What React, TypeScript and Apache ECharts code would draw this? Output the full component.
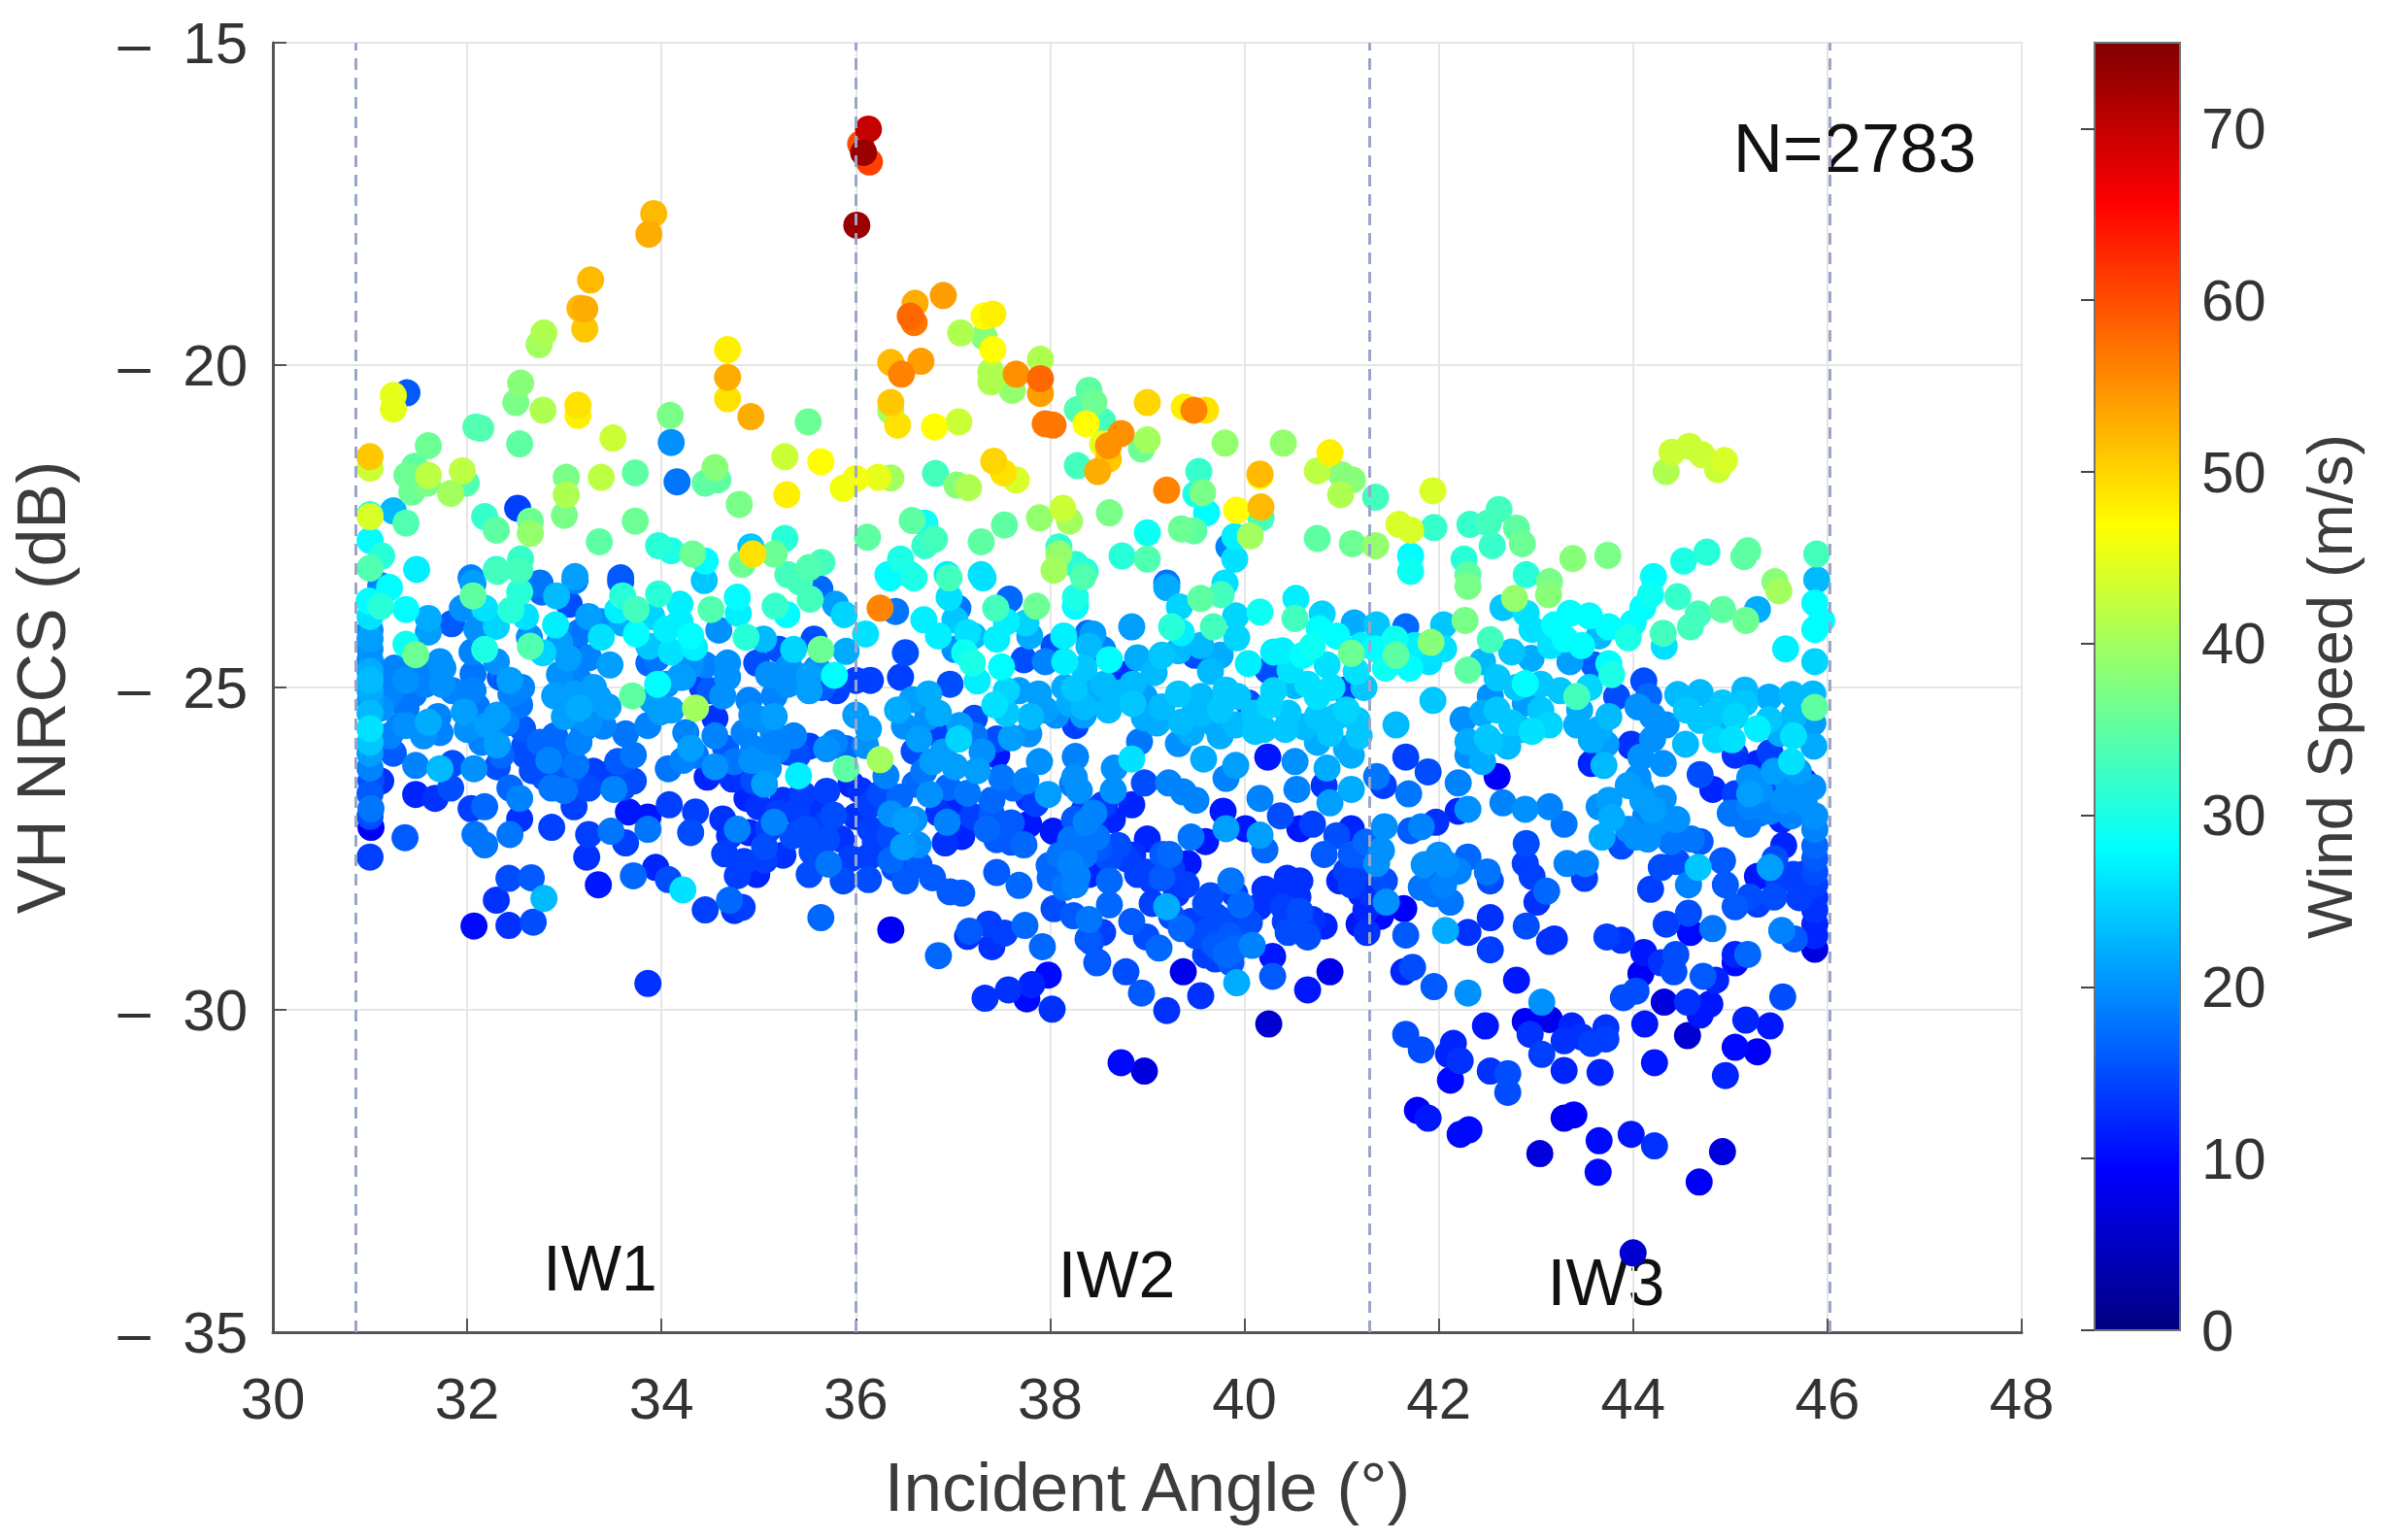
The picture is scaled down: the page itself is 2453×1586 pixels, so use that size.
import React, { useEffect, useRef } from "react";
import * as echarts from "echarts";

// Each point: [incident angle (deg), |VH NRCS| (dB), wind speed (m/s)]
type P = [number, number, number];

const xTicks = { min: 30, max: 48, step: 2 };
const yTicks = { min: -35, max: -15, step: 5 };
const windRange = [0, 75];
const windTicks = [0, 10, 20, 30, 40, 50, 60, 70];
const subSwathEdges = [30.85, 36.0, 41.29, 46.02];
const jetColors = ["#000080", "#0000ff", "#0080ff", "#00ffff", "#80ff80", "#ffff00", "#ff8000", "#ff0000", "#800000"];

const upperLeft: P[] = [
[36.13,16.34,70],[36.05,16.57,60],[36.14,16.85,61],[36.08,16.7,73],[36.01,17.83,73],[33.92,17.65,52],[33.87,17.97,53],[33.27,18.68,52],[33.16,19.12,52],[33.21,19.13,53],[33.21,19.44,51],[32.79,19.5,41],[32.74,19.68,40],[34.68,19.76,48],[34.68,20.19,53],[34.68,20.52,49],[34.92,20.8,53],[32.55,20.28,38],[32.5,20.58,37],[32.78,20.7,41],[33.14,20.62,49],[33.14,20.78,48],[31.38,20.43,16],[31.24,20.47,45],[31.24,20.68,45],[33.5,21.13,43],[34.09,20.78,37],[34.1,21.2,20],[35.51,20.88,36],[32.14,20.98,34],[32.09,20.96,34],[32.54,21.22,35],[31.6,21.25,36],[31.0,21.42,51],[31.0,21.6,43],[31.38,21.71,36],[31.46,21.57,35],[31.6,21.71,42],[31.59,21.83,37],[31.95,21.64,42],[31.99,21.83,34],[31.43,21.97,36],[31.83,21.99,40],[33.02,21.74,37],[33.02,22.01,41],[33.0,22.33,37],[33.38,21.74,42],[33.73,21.67,35],[34.16,21.81,18],[34.55,21.59,38],[34.45,21.83,35],[34.58,21.78,35],[35.27,21.42,43],[35.64,21.5,47],[35.29,22.01,48],[34.8,22.16,37],[35.87,21.91,46],[36.0,21.76,46],[36.23,21.74,45],[36.36,21.75,40],[36.82,21.68,33],[37.04,21.86,38],[37.16,21.9,41],[37.42,21.49,50],[37.52,21.67,49],[37.65,21.78,44],[32.52,22.22,14],[32.18,22.35,32],[32.3,22.56,35],[32.65,22.42,36],[32.65,22.61,39],[31.24,22.26,23],[31.37,22.45,34],[31.0,22.32,32],[31.0,22.35,44],[33.73,22.42,36],[33.36,22.74,35],[33.97,22.8,31],[34.1,22.88,30],[34.32,22.93,36],[34.45,23.04,28],[35.27,22.69,31],[34.92,22.82,24],[34.94,22.93,49],[35.16,22.93,36],[34.83,23.09,36],[35.65,23.06,33],[35.52,23.14,34],[35.3,23.25,33],[36.12,22.67,35],[36.58,22.41,35],[36.71,22.45,29],[36.81,22.7,33],[36.71,22.8,32],[37.29,22.74,35],[37.53,22.48,35],[37.89,22.37,39],[36.46,23.01,30],[31.0,22.72,28],[31.12,22.96,31],[31.0,23.15,34],[31.48,23.17,27],[32.55,23.01,32],[32.3,23.17,31],[32.04,23.3,19],[33.11,23.28,21],[33.58,23.3,16],[32.75,23.38,18],[36.33,23.25,28],[36.56,23.25,28],[36.94,23.25,27],[37.29,23.25,26],
[36.61,19.04,53],[36.9,18.92,54],[36.56,19.24,58],[36.6,19.34,57],[37.08,19.5,41],[37.32,19.56,38],[37.41,19.21,48],[37.32,19.24,47],[37.41,19.76,47],[37.39,20.1,41],[37.39,20.26,41],[37.61,20.39,39],[37.9,19.91,41],[37.65,20.14,55],[37.9,20.21,58],[37.9,20.44,54],[36.36,19.96,52],[36.67,19.94,54],[36.47,20.14,56],[36.36,20.58,51],[36.36,20.71,40],[36.43,20.93,49],[36.81,20.96,47],[37.06,20.88,43],[37.95,20.91,57],
];

const upperRight: P[] = [
[38.4,20.39,35],[38.45,20.58,36],[38.28,20.69,34],[38.54,20.87,33],[38.37,20.91,47],[38.03,20.93,57],[39.0,20.58,50],[39.38,20.65,48],[39.6,20.7,49],[39.48,20.7,56],[38.73,21.06,55],[38.6,21.25,55],[38.6,21.46,51],[38.49,21.65,53],[38.54,21.22,45],[39.0,21.16,40],[38.94,21.3,36],[39.8,21.21,39],[40.4,21.21,39],[40.88,21.36,48],[40.75,21.64,42],[41.0,21.7,38],[41.11,21.78,38],[40.99,22.01,41],[38.28,21.56,33],[39.53,21.65,32],[39.2,21.94,56],[39.5,22.0,30],[39.57,21.98,37],[39.61,22.29,28],[40.16,21.69,52],[40.16,21.72,47],[40.17,22.2,52],[40.17,22.37,33],[39.92,22.25,47],[41.35,22.05,33],[41.94,21.95,44],[38.13,22.22,43],[38.2,22.42,40],[38.61,22.29,37],[39.0,22.6,29],[39.35,22.54,36],[39.48,22.57,35],[40.06,22.65,40],[39.9,22.66,27],[40.75,22.69,35],[41.11,22.77,36],[41.35,22.8,39],[41.59,22.47,44],[41.71,22.56,44],[41.95,22.52,32],[42.32,22.47,32],[42.62,22.24,33],[42.51,22.45,33],[42.55,22.8,32],[42.8,22.53,35],[42.86,22.77,36],[42.26,23.01,31],[41.71,22.96,28],[41.71,23.2,29],[38.74,22.96,31],[39.0,23.01,34],[38.09,22.82,32],[38.09,22.93,39],[38.26,23.09,31],[38.36,23.2,31],[39.84,22.82,19],[39.9,23.01,26],[43.38,23.0,38],[43.74,22.95,37],[44.58,21.26,43],[44.4,21.35,43],[44.34,21.65,41],[44.71,21.39,43],[44.94,21.48,44],[44.87,21.62,43],[45.18,22.88,35],[45.14,22.97,35],[44.76,22.9,31],[44.52,23.04,30],[44.21,23.28,28],[45.89,22.93,33],[42.9,23.25,31],[42.3,23.25,35],[45.46,23.36,38],[45.89,23.33,23],[39.2,23.38,18],[39.8,23.38,26],[43.14,23.36,37],
];

const middleLeft: P[] = [
[32.06,23.39,21],[33.11,23.34,19],[33.58,23.36,16],[32.31,23.2,33],[32.54,23.18,33],[31.11,23.42,19],[32.06,23.58,35],[32.18,23.77,26],[32.54,23.52,31],[32.77,23.52,17],[32.92,23.58,23],[33.05,23.71,15],[31.95,23.77,20],[30.99,23.66,28],[31.11,23.74,31],[31.37,23.79,28],[31.6,23.93,22],[31.6,24.14,21],[31.84,24.01,16],[32.91,24.03,27],[32.64,24.22,20],[32.65,24.36,34],[32.78,24.46,25],[31.37,24.33,29],[31.47,24.49,36],[32.18,24.41,30],[31,24.11,20],[31,24.41,20],[31,24.57,20],[31.72,24.6,20],[33.04,24.54,21],[33.25,24.54,19],[33.38,23.98,20],[33.38,24.22,26],[33.47,24.65,21],[33.6,23.58,31],[33.74,23.79,33],[33.74,24.17,28],[33.87,24.36,24],[33.87,24.62,17],[33.97,23.55,31],[34.19,23.71,27],[34.19,23.98,27],[34.34,24.38,27],[34.44,23.34,24],[34.51,23.79,34],[34.59,24.11,20],[34.78,23.6,28],[34.87,24.22,31],[34.79,23.85,27],[34.98,24.62,15],[35.17,23.74,32],[35.29,23.87,28],[35.42,23.36,33],[35.53,23.63,33],[35.63,23.47,17],[35.79,23.71,21],[35.88,23.87,25],[35.36,24.41,25],[35.21,24.41,15],[35.57,24.25,15],[35.64,24.41,36],[35.9,24.44,22],[35.31,24.68,20],[35.52,25.05,21],[35.52,24.81,21],[35.78,24.81,28],[35.8,25.05,14],[34.68,24.62,20],[34.19,24.84,21],[34.42,25,14],[36.1,24.17,26],[36.25,23.77,56],[36.41,23.82,18],[36.35,23.3,28],[36.6,23.3,30],[36.96,23.3,33],[36.96,23.6,26],[37.31,23.3,26],[37.05,23.77,18],[37.02,23.95,24],[37.21,24.2,23],[37.02,24.41,20],[36.51,24.46,15],[37.12,24.46,29],[37.2,24.62,30],[37.44,23.77,33],[37.58,23.63,17],[37.55,23.98,27],[37.86,23.74,36],[37.79,24.2,22],[38.04,23.18,40],[38.14,24.2,27],[38.34,23.28,34],[38.26,23.6,30],[38.26,23.74,28],[38.44,24.17,21],[38.54,24.41,19],[37.5,24.68,28],[37.73,24.57,15],[38.04,24.36,15],[37.88,25.1,21],[37.68,25.05,21],[38.37,25.05,22],[37.43,25.27,26],[36.97,24.95,15],[36.15,24.89,14],[36.0,24.89,14],[36.46,24.84,14],
[31,24.89,23],[31,25.21,21],[31.11,25.32,20],[31,25.64,26],[31,26.02,21],[31.24,24.89,19],[31.37,24.89,20],[31.57,24.95,19],[31.74,24.95,20],[31.37,25.32,18],[31.37,25.59,20],[31.6,25.54,22],[31.72,25.7,19],[32.06,24.79,18],[32.06,25.05,19],[31.97,25.38,21],[32.34,24.84,16],[32.44,24.89,21],[32.56,25,19],[32.54,25.27,18],[32.31,25.43,21],[32.21,25.59,21],[32.31,25.89,21],[32.57,25.64,16],[32.59,25.91,15],[32.9,25.13,21],[33.15,24.89,19],[33.15,25.32,22],[33.35,25.16,21],[33.2,25.64,19],[32.9,25.75,17],[33.7,25.13,35],[33.96,24.95,28],[33.63,25.72,18],[33.86,25.59,19],[33.99,25.38,21],[34.35,25.32,40],[34.22,24.84,21],[34.55,25.48,13],[34.63,25.13,20],[34.68,24.84,20],[34.93,25.43,20],[35.16,25.13,19],[35.16,25.45,21],[35.36,25.75,19],[35.52,25.91,14],[36,25.43,21],[36.13,25.64,21],[36.43,25.35,22],[36.58,25.19,21],[36.74,25.46,20],[37.07,25.59,21],[37.22,25.48,15],[37.06,25.8,25],[37.22,25.75,18],[36.82,25.7,14],[37.45,25.8,15],[37.6,25.78,21],[37.78,25.72,20],[37.45,26.05,11],[38.26,25.59,14],[38.06,25.43,20],[38.34,25.43,21],[38.47,25.21,21],
[31.24,26.02,16],[31.47,26.21,19],[31.72,26.26,23],[31.85,26.18,15],[32.07,26.26,20],[32.31,26.23,15],[32.67,26.29,15],[32.84,26.13,19],[33.12,26.21,18],[33.46,26.34,14],[33.71,26.05,18],[33.71,26.45,15],[34.07,26.26,18],[34.3,25.94,21],[34.22,26.13,19],[34.66,25.94,16],[34.55,26.23,20],[34.47,26.39,12],[34.73,26.42,13],[34.93,26.13,20],[35.19,25.97,19],[35.41,26.37,27],[35.06,26.5,21],[35.78,25.86,19],[35.9,26.26,35],[35.7,26.61,14],[36.25,26.12,40],[36.31,26.37,19],[36.6,25.99,15],[36.79,26.15,21],[37.02,26.23,21],[37.25,26.29,21],[36.61,26.5,17],[36.76,26.66,20],[37.15,26.64,18],[37.62,26.56,17],[37.89,26.15,20],[37.98,26.66,21],[37.78,26.72,13],[38.26,26.07,19],[38.23,26.5,18],
];

const lowerLeft: P[] = [
[31.01,26.45,15],[31.11,26.45,13],[31.47,26.66,12],[31.67,26.72,13],[31.83,26.56,15],[31.01,26.88,18],[31.01,27.17,9],[31.36,27.33,16],[31,27.63,14],[32.04,26.88,14],[32.18,26.85,17],[32.08,27.28,18],[32.18,27.44,18],[32.44,26.56,17],[32.54,26.72,19],[32.54,27.04,13],[32.44,27.28,18],[32.87,26.56,18],[32.87,27.17,14],[33.1,26.85,14],[33.25,26.56,15],[33.51,26.58,19],[33.66,26.93,11],[33.86,27.01,11],[33.25,27.28,14],[33.48,27.23,18],[33.63,27.41,14],[33.86,27.2,18],[33.23,27.63,13],[34.08,26.82,14],[34.35,26.93,14],[34.3,27.25,15],[34.63,27.04,13],[34.78,27.2,19],[34.88,26.72,12],[35.16,27.09,19],[35.39,26.93,14],[34.65,27.58,14],[35.06,27.47,15],[35.49,27.2,15],[35.77,26.98,15],[35.7,27.36,15],[36.15,27.2,14],[36.36,26.96,20],[36.51,27.07,21],[36.15,26.82,14],[36.64,27.44,20],[36.49,27.47,21],[36.94,27.09,19],[36.97,26.82,12],[36.92,27.41,13],[37.09,27.31,12],[37.4,26.98,16],[37.45,27.36,16],[37.73,27.44,17],[37.78,27.12,11],[38.03,27.23,11],[38.21,27.36,18],[38.37,27.09,19],[38.54,26.82,14],
[35.72,27.74,18],[35.52,27.9,15],[35.87,28,15],[36.13,27.63,14],[36.13,27.98,15],[36.36,27.68,17],[36.51,28,16],[36.79,27.95,16],[36.97,28.17,16],[37.09,28.19,16],[34.78,27.92,14],[34.98,27.9,12],[35.06,27.68,14],[37.45,27.87,16],[37.68,28.07,17],[37.99,27.76,17],[38.21,27.74,19],[38.26,28.06,19],[33.35,28.06,11],[33.71,27.92,17],[33.94,27.79,12],[34.07,27.98,15],[34.22,28.14,26],[32.43,27.96,15],[32.66,27.95,16],[32.3,28.3,13],[32.79,28.27,23],[32.07,28.7,10],[32.43,28.69,13],[32.68,28.64,15],[34.45,28.45,14],[34.7,28.3,17],[34.75,28.46,13],[34.83,28.41,14],[35.64,28.57,17],[36.36,28.76,9],[33.86,29.59,13],[36.85,29.16,17],[37.17,28.78,16],[37.15,28.86,13],[37.37,28.67,14],[37.4,29.02,13],[37.53,28.81,14],[37.74,28.69,17],[37.92,29.02,17],[38.04,28.43,15],[38.24,28.54,16],[38.42,28.94,15],[38.49,29.26,15],[37.33,29.82,13],[37.57,29.69,13],[37.76,29.83,10],[37.81,29.61,12],[37.98,29.46,10],[38.02,29.99,13],
];

const middleRight: P[] = [
[39.55,23.62,35],[39.76,23.56,33],[39.2,23.45,22],[39.33,23.75,25],[38.84,24.06,21],[39.25,24.06,31],[39.68,24.06,33],[39.91,23.89,25],[39.92,24.23,25],[40.16,23.83,29],[40.53,23.62,27],[40.52,23.93,33],[40.8,23.86,25],[40.77,24.09,28],[40.7,24.36,29],[41.13,24,22],[41.36,24.03,24],[40.95,24.2,28],[40.39,24.43,27],[40.04,24.63,27],[40.47,24.73,26],[41.1,24.47,36],[41.56,24.5,35],[41.92,24.3,38],[41.66,24.06,17],[42.05,24.03,24],[42.27,23.96,37],[42.53,24.26,33],[42.3,24.73,35],[42.66,23.76,24],[42.78,23.62,39],[43.13,23.56,38],[42.3,23.43,37],[42.96,24.1,26],[43.19,24.03,28],[43.55,23.89,28],[43.75,24.06,28],[43.47,24.35,28],[43.95,24.23,30],[44.1,23.76,28],[44.18,23.56,29],[44.46,23.59,32],[44.31,24.16,33],[44.32,24.36,26],[44.59,24.06,33],[44.67,23.86,33],[44.92,23.79,35],[45.16,23.96,36],[45.28,23.79,22],[45.5,23.5,40],[45.57,24.4,27],[45.94,23.96,28],[45.87,23.69,28],[45.87,24.1,28],[45.87,24.6,25],[45.87,25.31,35],[43.75,24.63,28],[43.78,24.8,30],[42.89,24.94,28],[43.42,25.14,33],
[38.61,24.57,28],[38.4,24.36,23],[38.9,24.54,22],[39.32,24.43,23],[39.49,24.5,15],[38.39,24.16,17],[38.25,25.02,24],[38.48,25.02,22],[38.74,25.08,23],[38.97,25.15,21],[38.76,24.8,13],[39.07,24.77,23],[39.32,25.1,24],[39.55,25.14,23],[39.81,25.04,24],[39.93,25.14,24],[40.04,25.24,15],[40.26,25.27,25],[40.75,25.14,26],[40.52,24.97,23],[40.24,24.73,15],[41.03,25.04,14],[41.23,25,24],[39.35,25.54,23],[39.32,25.87,20],[39.49,25.37,23],[39.7,25.58,22],[39.91,25.58,23],[40.11,25.68,24],[40.42,25.65,24],[40.62,25.61,23],[40.88,25.71,24],[41.16,25.51,24],[41.18,25.75,24],[38.28,25.45,14],[38.97,25.47,22],[38.92,25.84,18],[38.26,26.08,19],[38.84,26.11,26],[38.66,26.25,20],[38.97,26.48,15],[39.22,26.48,19],[39.37,26.62,19],[39.5,26.75,19],[39.58,26.11,22],[39.91,26.21,21],[39.81,26.41,19],[40.24,26.08,11],[40.52,26.15,20],[40.16,26.72,19],[40.54,26.58,19],[40.85,26.25,22],[41.1,26.05,22],[41.1,26.58,22],[40.88,26.79,21],[40.82,26.52,13],[41.56,25.58,23],[41.94,25.2,24],[41.66,26.08,14],[41.89,26.31,15],[41.36,26.38,18],[41.43,26.52,14],[41.69,26.65,18],[42.3,26.05,20],[42.2,26.48,19],[42.3,26.89,20],[42.2,26.92,12],[42.53,25.84,24],[42.71,25.91,23],[42.96,25.68,26],[43.14,25.58,25],[42.6,26.38,9],[42.53,25.14,20],[42.89,25.24,21],[43.42,25.58,22],[43.57,25.81,22],[43.72,25.88,21],[43.7,26.21,23],[43.57,26.18,12],[43.98,25.88,13],[44.08,26.08,20],[44.16,25.14,17],[43.83,25.14,15],[44.11,24.9,15],[44.46,25.11,23],[44.69,25.08,23],[44.92,25.24,24],[45.15,25.04,23],[45.15,25.24,24],[44.69,25.51,24],[44.34,25.58,20],[44.54,25.88,23],[44.85,25.81,25],[45.02,25.81,26],[45.28,25.64,27],[45.64,25.11,23],[45.51,25.71,22],[45.41,26.01,14],[45.63,26.15,26],[45.86,25.91,22],[45.05,26.05,13],[45.28,26.18,12],[45.76,26.45,12],[44.31,26.18,20],[44.31,26.72,20],[44.08,26.58,20],[43.95,26.52,21],[44.69,26.35,15],[44.82,26.58,12],[45.05,26.65,14],[45.2,26.85,19],[45.51,26.52,15],[45.76,26.78,20],[45.87,26.99,20],[45.53,27.05,12],[45.0,26.95,18],[45.18,27.12,18],[45.41,26.92,19],[45.63,26.99,19],[43.65,26.85,20],[43.78,27.02,22],[43.68,27.32,22],[44.13,26.99,19],[44.03,27.32,20],
];

const lowerRight: P[] = [
[44.39,27.39,18],[44.69,27.39,16],[44.92,27.69,16],[44.29,27.79,15],[44.18,28.13,14],[44.67,27.79,24],[44.57,28.06,19],[44.95,28.06,16],[45.05,28.4,16],[45.28,28.36,14],[45.41,27.79,21],[45.46,27.66,15],[45.28,27.93,11],[45.87,27.46,17],[45.87,27.86,15],[45.87,28.26,13],[45.87,28.67,12],[45.87,29.06,7],[45.71,28.26,14],[45.53,28.77,19],[45.66,28.9,16],
[38.28,27.93,19],[38.61,28,17],[38.79,27.66,14],[38.61,28.37,17],[38.98,27.86,14],[39.16,27.59,16],[39.45,27.32,18],[39.6,27.39,11],[39.42,27.73,11],[39.05,28,14],[39.4,28.06,14],[38.48,27.32,18],[38.25,27.05,16],[38.56,26.82,13],[38.64,27.05,12],[38.84,26.82,12],[39.78,26.92,11],[39.81,27.19,21],[40.01,27.19,11],[40.16,27.29,21],[40.21,27.52,17],[40.57,27.19,11],[40.37,26.99,15],[39.86,28,18],[39.65,28.23,15],[40.21,28.13,13],[40.44,27.96,13],[40.57,28,13],[39.96,28.37,17],[40.57,28.47,15],[40.82,28.7,12],[40.65,28.87,15],[40.42,28.63,14],[40.7,27.12,14],[40.82,27.59,16],[41.1,27.59,16],[40.98,28,12],[41.1,28.06,14],[41.18,28.67,11],[41.26,28.8,13],[41.46,28.33,20],[41.64,28.43,9],[41.44,28,15],[41.36,27.73,20],[41.1,27.19,12],[38.4,28.6,18],[38.54,28.8,14],[38.39,28.9,16],[38.84,28.63,16],[38.99,28.87,15],[39.12,29.04,17],[39.35,28.74,17],[39.45,28.63,14],[38.48,29.27,16],[38.78,29.41,15],[38.94,29.74,16],[39.37,29.41,8],[39.55,29.78,13],[39.92,29.58,22],[39.7,29.21,14],[39.81,29.14,17],[40.08,29.0,19],[39.86,29.27,16],[39.6,28.8,15],[39.76,28.87,15],[39.96,28.53,14],[40.29,29.17,11],[40.29,29.48,16],[40.65,29.69,11],[40.88,29.41,8],[39.2,30.01,13],[40.25,30.22,6],[38.73,30.82,10],[38.97,30.95,7],[39.2,28.4,22],[39.23,27.59,17],
[41.66,28.84,16],[42.07,28.77,22],[42.3,28.8,13],[42.53,28.57,13],[42.53,29.07,14],[42.9,28.7,15],[43.14,28.94,13],[43.19,28.9,13],[41.64,29.41,12],[41.73,29.34,15],[41.95,29.64,16],[42.3,29.74,20],[42.8,29.54,11],[43.06,29.88,20],[42.89,30.18,9],[43.14,30.15,8],[42.48,30.25,11],[41.66,30.38,15],[41.82,30.62,15],[42.15,30.52,12],[42.1,30.69,12],[42.22,30.79,13],[42.12,31.09,10],[42.53,30.95,13],[42.71,30.99,15],[42.71,31.28,15],[42.94,30.38,13],[43.06,30.69,14],[43.29,30.48,13],[43.37,30.25,12],[43.47,30.42,13],[43.29,30.94,12],[43.66,30.97,12],[43.72,30.28,13],[43.72,30.45,14],[43.57,30.52,14],[44.12,30.22,11],[44.22,30.82,11],[44.56,30.4,6],[44.32,29.88,7],[43.9,29.81,15],[44.03,29.71,15],[44.56,29.88,13],[44.79,29.91,11],[44.69,30.08,11],[44.11,29.11,11],[44.08,29.44,9],[43.73,28.87,14],[43.88,28.92,13],[44.29,29.27,13],[44.44,29.14,15],[44.42,29.41,15],[44.72,29.48,16],[44.85,29.54,12],[45.05,29.27,10],[45.18,29.14,17],[45.05,29.14,12],[44.34,28.67,14],[44.57,28.5,15],[44.59,28.8,10],[44.82,28.74,18],[45.54,29.8,15],[45.16,30.16,12],[45.41,30.25,11],[45.05,30.58,10],[45.28,30.65,9],[44.95,31.02,12],[41.78,31.56,9],[41.89,31.68,11],[42.22,31.93,10],[42.31,31.86,10],[43.29,31.68,8],[43.39,31.63,9],[43.65,32.03,10],[43.64,32.52,10],[43.04,32.23,7],[43.98,31.93,11],[44.22,32.11,13],[44.92,32.2,7],[44.68,32.67,9],[44,33.77,6],
[41.97,27.09,13],[41.82,27.16,19],[41.71,27.22,16],[41.44,27.16,20],[41.41,27.53,20],[42.3,25.84,22],[42.5,25.78,24],[42.66,26.79,19],[42.89,26.89,20],[43.14,26.85,19],[43.29,27.12,18],[42.9,27.42,15],[42.89,27.73,14],[42.96,27.93,14],[43.11,28.16,17],[43.01,28.33,13],[42.3,27.63,17],[42.07,27.73,20],[42.5,27.86,18],[42.53,28,15],[41.97,27.93,16],[41.82,28.1,18],[42.05,28.06,19],[42.12,28.33,18],[43.32,27.73,19],[43.51,27.73,19],[43.5,27.96,14],[43.98,25.91,12],[43.88,27.46,15],
];

const denseBandLeft: P[] = [
[31,23.9,26],[31,24.25,21],[31,24.75,22],[31,25.05,22],[31,25.4,23],[31,25.85,24],[31,26.25,19],[31,26.65,16],[31,27.0,15],
[31.25,24.7,19],[31.5,24.7,19],[31.75,24.7,20],[31.2,25.1,19],[31.45,25.1,18],[31.85,25.05,19],[32.05,24.45,19],[32.3,24.6,20],[32.45,25.1,19],[32.1,25.3,18],[31.3,25.6,19],[31.55,25.75,20],[31.7,25.45,19],[31.2,25.75,19],[32.0,25.65,20],[32.15,25.85,19],[32.4,25.55,19],[32.35,26.05,17],[32.6,26.05,15],[32.95,24.8,20],[33.1,25.1,21],[33.3,25.0,21],[33.45,25.3,21],[33.0,25.45,21],[33.25,25.55,20],[33.4,25.6,19],[33.15,25.85,19],[32.75,25.85,17],[32.95,26.05,17],[33.05,26.35,16],[32.8,26.4,15],[33.0,26.6,18],[33.3,26.3,14],[33.55,26.15,16],[33.6,26.55,15],
[33.55,23.8,27],[33.9,23.9,25],[34.05,24.1,27],[34.3,24.2,28],[34.1,24.45,26],[33.6,24.0,22],[33.95,24.55,18],[34.3,24.65,20],[34.05,24.95,20],[33.9,25.2,21],[34.1,25.35,21],[34.25,25.7,19],[34.5,25.05,16],[34.55,25.75,19],[34.35,26.05,18],[34.45,24.65,19],[34.9,25.2,19],[35.05,25.5,20],[34.85,25.7,19],[35.15,25.7,19],[34.95,25.95,19],[35.3,26.0,15],[34.75,26.15,18],[35.1,26.25,20],[35.4,26.05,15],[34.95,26.45,15],[35.1,24.8,20],[35.3,24.95,20],[35.05,24.25,23],[35.6,24.7,20],[35.65,25.0,16],[35.7,25.95,20],[35.9,25.95,17],[35.95,26.5,12],
[35,26.85,13],[35.25,26.75,13],[35.45,26.65,14],[35.6,26.85,13],[35.1,27.2,14],[35.35,27.3,15],[35.25,27.6,13],[35.55,27.55,15],[34.9,27.25,12],[35.7,27.1,14],[35.85,27.35,13],[35.95,27.65,14],[34.85,27.7,14],[34.7,27.3,13],[35.2,26.95,14],[35.55,26.95,13],
[36.1,25.9,20],[36.25,26.65,15],[36.45,26.7,17],[36.2,27.4,14],[36.35,27.3,15],[36.6,27.05,20],[36.4,27.8,15],[36.65,27.75,16],[36.0,27.0,13],[36.05,26.6,13],[36.5,25.6,20],[36.65,25.8,21],[36.75,25.1,22],[36.85,25.4,22],[36.9,26,21],[36.7,26.3,18],[36.95,26.55,17],[36.85,26.95,13],
[37.3,26.0,20],[37.5,26.4,18],[37.4,26.75,17],[37.75,26.45,19],[37.85,26.8,14],[37.6,27.1,16],[37.6,27.4,16],[37.35,27.2,17],[37.2,27.0,14],[37.55,25.4,24],[37.8,25.45,23],[37.25,24.9,27],[37.55,25.05,25],[37.95,25.35,21],[38.15,25.0,22],[38.2,25.25,22],[37.95,24.6,19],[38.35,24.7,24],[38.15,24.6,27],[37.75,24.0,25],[37.45,24.25,27],[37.15,24.15,26],[36.7,23.95,27],[36.85,24.2,27],[38.0,27.95,17],[38.15,28.1,18],[38.4,27.9,12],[38.35,27.6,18],[38.5,27.5,16],[38.1,27.6,18],
[31.2,23.45,28],[32.45,23.8,31],[32.6,23.9,26],[32.3,24.05,25],[32.1,24.1,20],[32.95,24.3,21],[33.15,24.15,18],[33.25,23.9,21],[33.1,24.35,16],
];

const denseBandRight: P[] = [
[38.55,24.95,23],[38.85,24.95,23],[38.35,25.3,23],[38.6,25.35,23],[38.85,25.25,24],[39.15,25.3,23],[39.1,25.55,22],[39.55,25.4,23],[39.75,25.35,24],[39.45,25.7,22],[39.75,25.75,22],[39.55,24.35,23],[39.75,24.5,22],[39.35,24.15,27],[39.15,24.5,24],[39.65,24.75,23],
[40.1,25.4,24],[40.3,25.05,25],[40.45,25.4,24],[40.65,24.95,26],[40.9,25.0,26],[40.75,25.45,24],[41.05,25.35,25],[40.2,25.65,24],[40.75,25.85,22],[41.05,25.95,22],[40.95,25.45,24],[41.15,24.75,26],[41.2,24.35,27],[40.85,24.65,26],[40.6,24.5,28],[40.3,24.45,27],
[41.35,24.4,28],[41.55,24.25,29],[41.7,24.7,28],[41.9,24.6,26],[42.05,24.4,26],[41.45,24.7,29],[41.75,24.35,27],
[42.45,24.6,23],[42.6,24.85,24],[42.75,24.45,24],[42.95,24.55,22],[42.8,25.0,24],[42.6,25.35,24],[42.75,25.55,24],[42.45,25.4,22],[43.05,24.95,24],[43.25,25.05,24],[43.05,25.35,24],[42.85,25.65,23],[42.4,25.9,20],[42.25,25.5,20],[42.45,26.15,22],
[43.35,24.6,21],[43.55,25.0,25],[43.45,25.35,22],[43.75,25.45,23],[43.65,25.65,22],[43.6,24.65,16],[42.9,23.85,26],[43.35,23.85,28],[44.0,24.0,28],[43.3,24.25,28],[43.15,24.35,26],[43.65,24.2,23],
[44.05,25.3,20],[44.2,25.45,20],[44.55,25.35,24],[44.8,25.45,24],[44.9,25.65,22],[45.05,25.45,25],[45.4,25.15,22],[45.4,25.5,24],[45.65,25.45,23],[45.85,25.1,23],[45.85,25.55,21],[45.65,25.75,26],[44.2,25.8,20],[44.05,26.4,20],[44.2,26.9,21],
[45.2,26.4,20],[45.3,26.6,20],[45.45,26.3,21],[45.6,26.5,20],[45.7,26.3,21],[45.85,26.55,20],[45.05,26.95,17],[45.3,26.95,18],[45.55,26.75,20],[45.2,26.65,21],
[45.87,27.2,19],[45.87,27.65,16],[45.87,28.05,14],[45.87,28.45,13],[45.87,28.85,12],[45.75,27.9,13],[45.65,27.9,14],[45.55,27.45,12],[45.45,28.25,15],[45.5,28.0,14],[45.2,28.25,15],
[43.75,26.75,21],[43.95,27.2,20],[44.1,26.75,21],[44.25,27.1,20],[44.45,27.05,20],[44.6,27.35,18],[44.15,27.35,20],[44.45,27.7,15],
[38.3,26.6,20],[38.45,26.95,19],[38.25,26.4,20],[38.35,26.9,14],[38.65,26.6,20],[38.7,27.45,15],[38.9,27.9,14],[38.85,27.6,13],[39.15,27.95,16],[39.25,27.8,14],[38.6,27.65,15],[39.0,27.35,12],
[39.3,28.2,13],[39.05,28.35,14],[39.25,28.55,15],[39.6,28.35,15],[39.75,28.6,15],[39.5,28.85,15],[39.7,28.55,14],[39.9,28.2,14],[40.05,28.65,15],[40.15,28.4,13],[39.85,28.85,16],[39.7,29.0,16],[39.6,29.15,14],[39.9,29.05,17],
[40.3,28.2,13],[40.55,28.25,13],[40.4,28.4,14],[40.7,28.6,13],[40.6,28.7,14],[40.45,28.8,15],[40.95,27.3,15],[41.05,27.85,14],[41.2,28.2,12],[41.25,27.4,17],[41.25,28.45,12],[41.15,27.9,14],[41.4,28.55,10],[41.3,28.2,13],[41.2,27.6,16],
[41.85,27.75,20],[41.95,28.2,18],[42.0,27.6,20],[42.2,27.85,19],
];

const allPoints = [...lowerRight, ...lowerLeft, ...denseBandLeft, ...denseBandRight, ...middleLeft, ...middleRight, ...upperLeft, ...upperRight]
  .slice()
  .sort((a, b) => a[2] - b[2])
  .map(([x, y, w]) => [x, -y, w]);

const FONT = "'Liberation Sans', Arial, sans-serif";

export default function App() {
  const ref = useRef<HTMLDivElement>(null);
  useEffect(() => {
    const chart = echarts.init(ref.current!, undefined, { renderer: "svg" });
    const gradient = new echarts.graphic.LinearGradient(0, 1, 0, 0,
      jetColors.map((color, i) => ({ offset: i / (jetColors.length - 1), color })));
    chart.setOption({
      animation: false,
      backgroundColor: "#fff",
      textStyle: { fontFamily: FONT },
      grid: [
        { left: 278, top: 44, width: 1804, height: 1328, show: true, borderColor: "#d9d9d9", borderWidth: 2 },
        { left: 2157, top: 44, width: 88, height: 1326, show: true, borderColor: "#6f7478", borderWidth: 2, backgroundColor: gradient },
      ],
      xAxis: [
        {
          gridIndex: 0, type: "value", min: xTicks.min, max: xTicks.max, interval: xTicks.step,
          name: "Incident Angle (°)", nameLocation: "middle", nameGap: 124,
          nameTextStyle: { fontSize: 71, color: "#3c3c3c", fontFamily: FONT },
          axisLine: { lineStyle: { color: "#555", width: 3 } },
          axisTick: { inside: true, length: 14, lineStyle: { color: "#555", width: 2 } },
          axisLabel: { fontSize: 60, color: "#333", margin: 38, fontFamily: FONT },
          splitLine: { show: true, lineStyle: { color: "#e6e6e6", width: 2 } },
        },
        { gridIndex: 1, type: "value", min: 0, max: 1, show: false },
      ],
      yAxis: [
        {
          gridIndex: 0, type: "value", min: yTicks.min, max: yTicks.max, interval: yTicks.step,
          name: "VH NRCS (dB)", nameLocation: "middle", nameGap: 203,
          nameTextStyle: { fontSize: 70, color: "#3c3c3c", fontFamily: FONT },
          axisLine: { show: true, lineStyle: { color: "#555", width: 3 } },
          axisTick: { show: true, inside: true, length: 14, lineStyle: { color: "#555", width: 2 } },
          axisLabel: { fontSize: 60, color: "#333", margin: 26, fontFamily: FONT, padding: [10, 0, 0, 0], formatter: (v: number) => `–  ${Math.abs(v)}` },
          splitLine: { show: true, lineStyle: { color: "#e6e6e6", width: 2 } },
        },
        {
          gridIndex: 1, type: "value", min: windRange[0], max: windRange[1], position: "right",
          name: "Wind Speed (m/s)", nameLocation: "middle", nameGap: 122, nameRotate: 90,
          nameTextStyle: { fontSize: 65, color: "#3c3c3c", fontFamily: FONT },
          axisLine: { show: false },
          axisTick: { show: true, inside: true, length: 14, customValues: windTicks, lineStyle: { color: "#444", width: 2 } },
          axisLabel: { fontSize: 60, color: "#333", margin: 22, padding: [6, 0, 0, 0], fontFamily: FONT, customValues: windTicks },
          splitLine: { show: false },
        },
      ],
      visualMap: {
        type: "continuous", show: false, seriesIndex: 0, dimension: 2, min: windRange[0], max: windRange[1],
        inRange: { color: jetColors },
      },
      series: [
        {
          type: "scatter", xAxisIndex: 0, yAxisIndex: 0, data: allPoints, symbolSize: 28, z: 2,
          itemStyle: { opacity: 1 },
        },
        {
          type: "scatter", xAxisIndex: 0, yAxisIndex: 0, data: [], z: 3,
          markLine: {
            silent: true, symbol: "none", label: { show: false }, animation: false,
            lineStyle: { color: "#9aa6c9", type: [12, 8], width: 3 },
            data: subSwathEdges.map((x) => ({ xAxis: x })),
          },
        },
      ],
      graphic: [
        { type: "text", x: 1910, y: 152, style: { text: "N=2783", fontSize: 71, fill: "#111", fontFamily: FONT, align: "center", verticalAlign: "middle" } },
        { type: "text", x: 618, y: 1306, style: { text: "IW1", fontSize: 66, fill: "#111", fontFamily: FONT, align: "center", verticalAlign: "middle" } },
        { type: "text", x: 1150, y: 1312, style: { text: "IW2", fontSize: 68, fill: "#111", fontFamily: FONT, align: "center", verticalAlign: "middle" } },
        { type: "text", x: 1654, y: 1320, style: { text: "IW3", fontSize: 68, fill: "#111", fontFamily: FONT, align: "center", verticalAlign: "middle" } },
      ],
    });
    return () => chart.dispose();
  }, []);
  return <div ref={ref} style={{ position: "fixed", left: 0, top: 0, width: 2453, height: 1586, background: "#fff" }} />;
}
